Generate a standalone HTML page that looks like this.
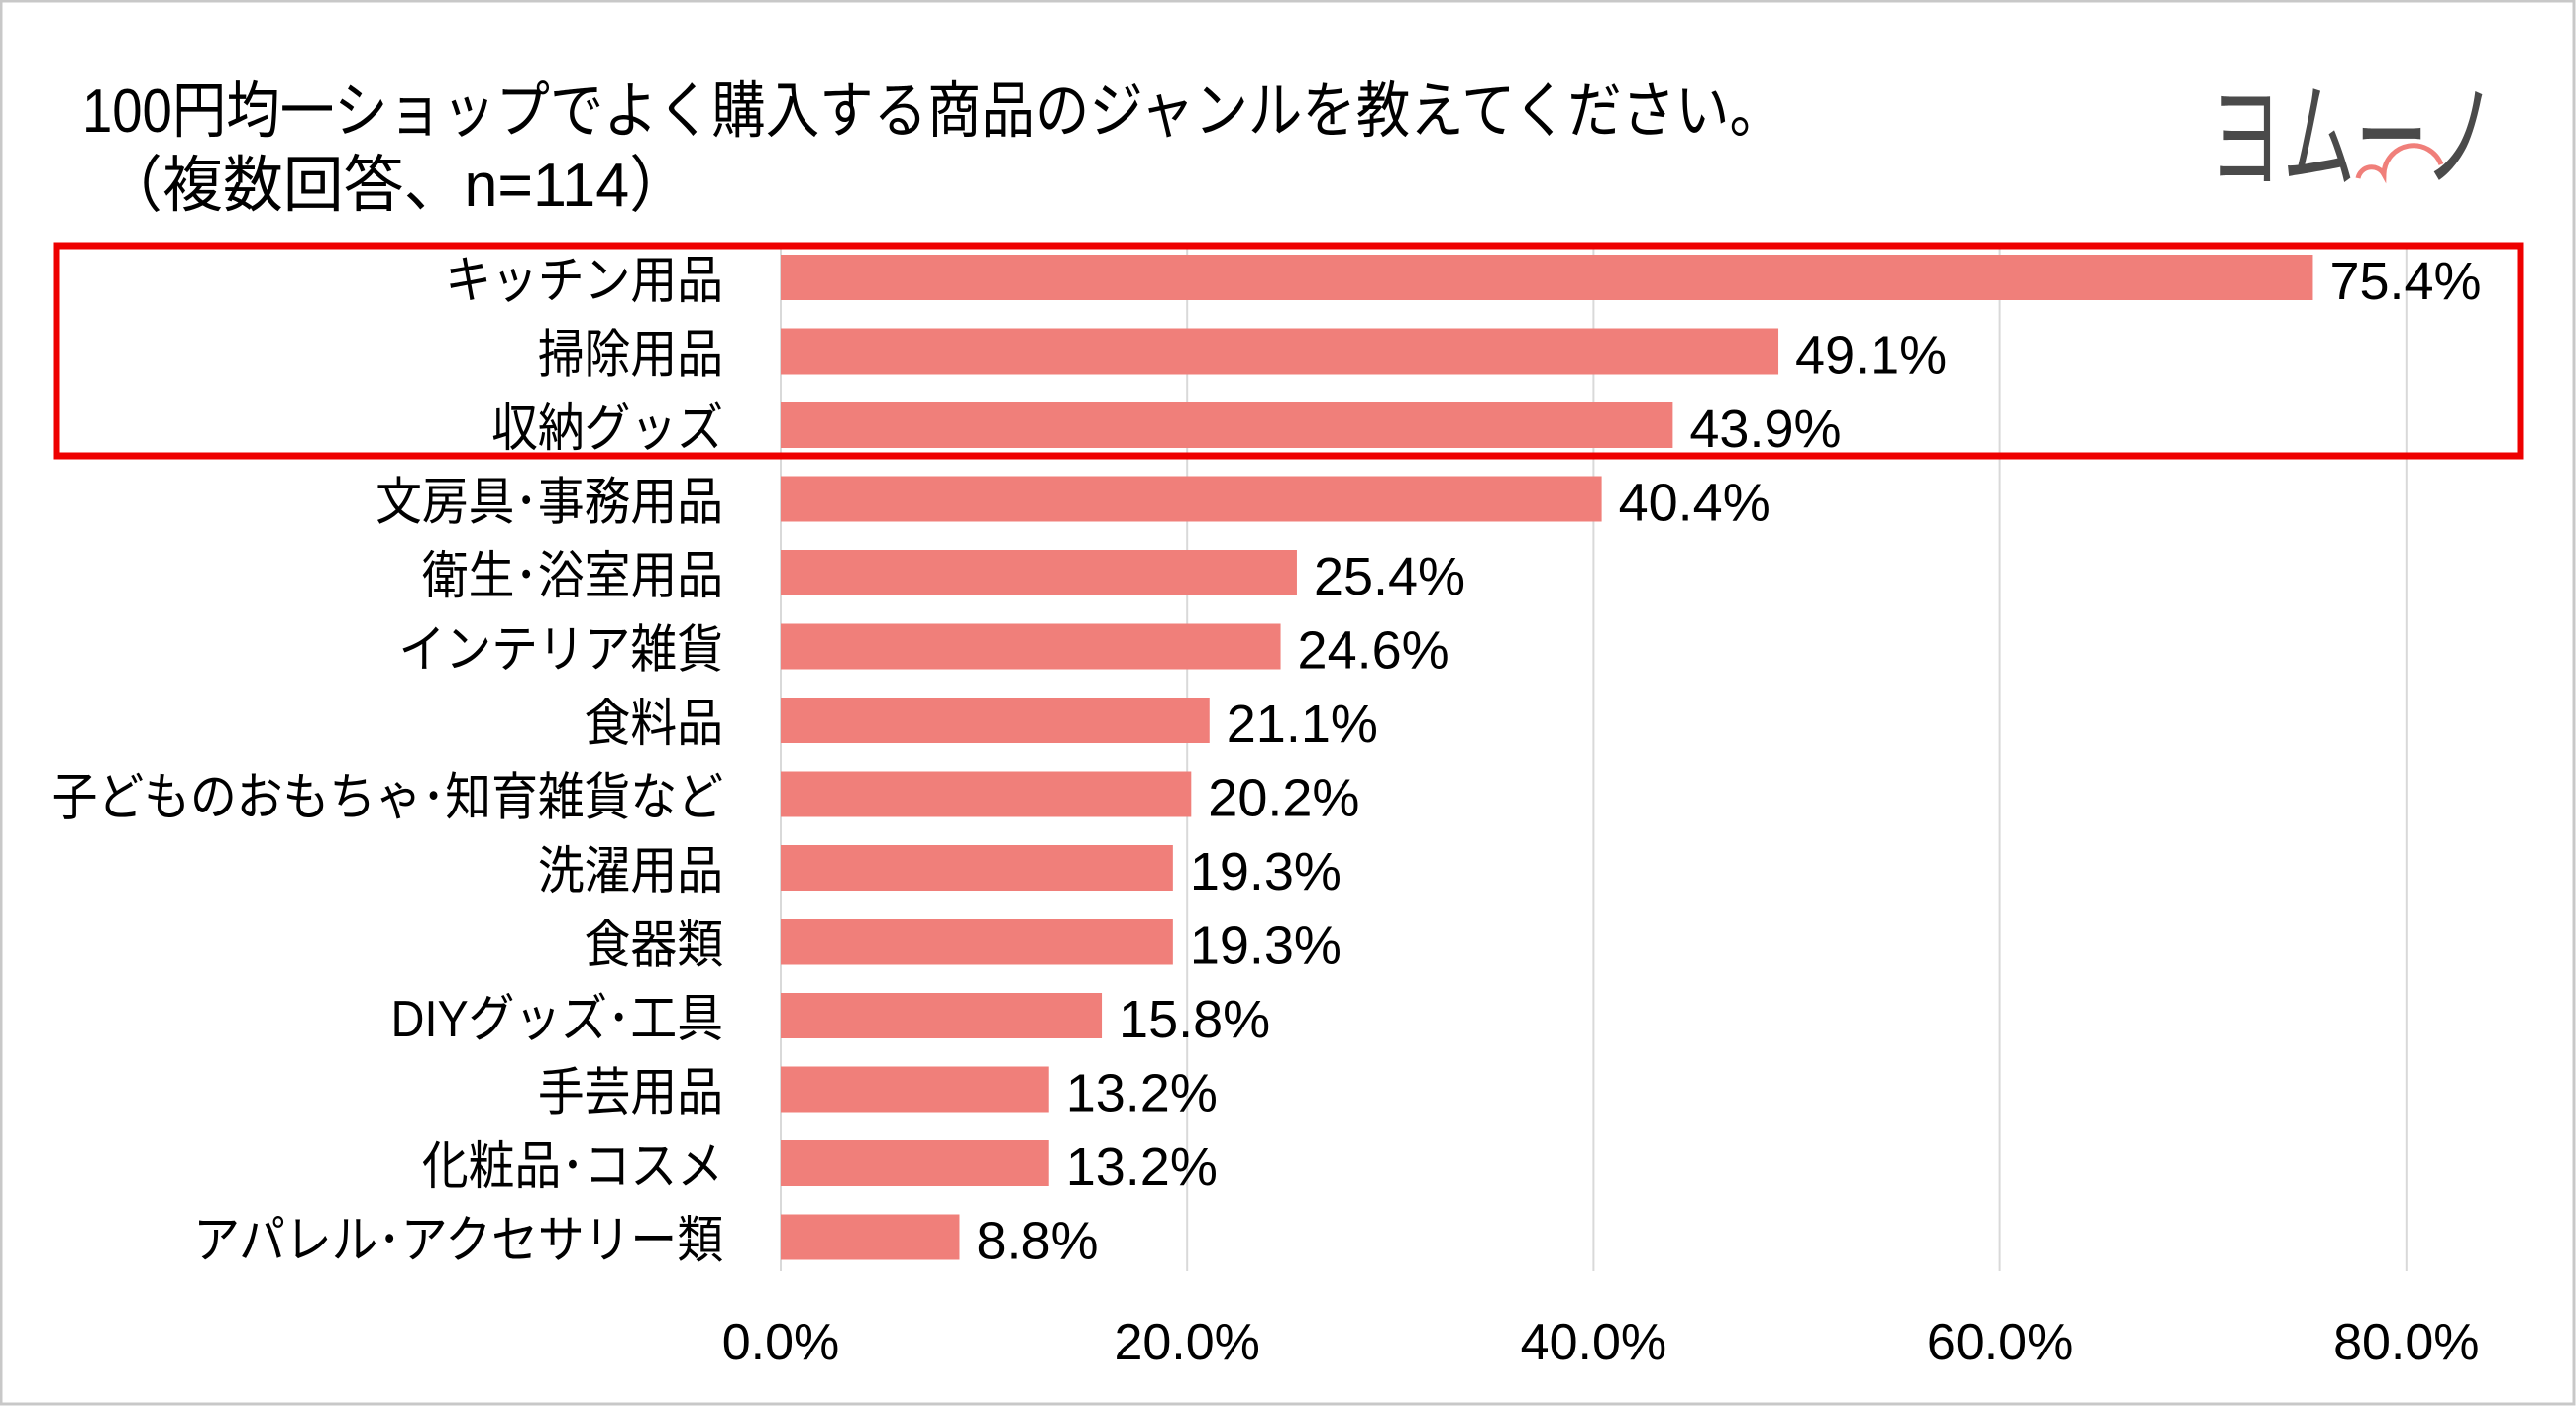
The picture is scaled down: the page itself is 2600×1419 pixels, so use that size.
<!DOCTYPE html>
<html><head><meta charset="utf-8"><style>
html,body{margin:0;padding:0;background:#fff}
svg{display:block}
</style></head><body>
<svg width="2600" height="1419" viewBox="0 0 2600 1419" xmlns="http://www.w3.org/2000/svg">
<rect x="1" y="1" width="2597" height="1416" fill="#fff" stroke="#c8c8c8" stroke-width="3"/>
<g font-family="'Liberation Sans','Noto Sans CJK JP',sans-serif" fill="#000">
<text x="83" y="133" font-size="62" textLength="1717" lengthAdjust="spacingAndGlyphs">100円均一ショップでよく購入する商品のジャンルを教えてください。</text>
<text x="103" y="208" font-size="62" textLength="593" lengthAdjust="spacingAndGlyphs">（複数回答、n=114）</text>
</g>
<g>
<text x="2230" y="180" font-family="'Noto Sans CJK JP',sans-serif" font-size="118" fill="#4a4a4a" textLength="290" lengthAdjust="spacingAndGlyphs">ヨムーノ</text>
<path d="M2380 180 A14 14 0 0 1 2406 176 A30 30 0 0 1 2464 166" fill="none" stroke="#f07f7a" stroke-width="5"/>
</g>
<g id="grid"></g>
<g id="bars"></g>
<g id="labels"></g>
<rect x="57" y="248" width="2487" height="212" fill="none" stroke="#ee0000" stroke-width="7"/>
</svg>
<script>
const categories=["キッチン用品","掃除用品","収納グッズ","文房具･事務用品","衛生･浴室用品","インテリア雑貨","食料品","子どものおもちゃ･知育雑貨など","洗濯用品","食器類","DIYグッズ･工具","手芸用品","化粧品･コスメ","アパレル･アクセサリー類"];
const values=[75.4,49.1,43.9,40.4,25.4,24.6,21.1,20.2,19.3,19.3,15.8,13.2,13.2,8.8];
const ticks=[0,20,40,60,80];
const NS="http://www.w3.org/2000/svg";
const x0=788,pxPer=20.51,y0=280,step=74.5,bh=46;
const xs=v=>x0+v*pxPer;
const ys=i=>y0+i*step;
const font="'Liberation Sans','Noto Sans CJK JP',sans-serif";
const grid=document.getElementById('grid'),bars=document.getElementById('bars'),labels=document.getElementById('labels');
function mk(t,a){const e=document.createElementNS(NS,t);for(const k in a)e.setAttribute(k,a[k]);return e;}
ticks.forEach(t=>{
  const l=mk('line',{x1:xs(t),x2:xs(t),y1:248,y2:1283,stroke:'#d9d9d9','stroke-width':2});
  
  
  grid.appendChild(l);
  const tx=mk('text',{x:xs(t),y:1372,'font-size':52,'text-anchor':'middle','font-family':font});
  
  
  tx.textContent=t.toFixed(1)+'%';
  labels.appendChild(tx);
});
categories.forEach((c,i)=>{
  const r=mk('rect',{x:x0,y:ys(i)-bh/2,width:xs(values[i])-x0,height:bh,fill:'#f07f7a'});
  
  
  bars.appendChild(r);
  const lb=mk('text',{x:0,y:0,'font-size':52,'text-anchor':'end','font-family':font,transform:'translate(730,'+(ys(i)+21)+') scale(0.9,1)'});
  
  
  lb.textContent=c;
  labels.appendChild(lb);
  const vl=mk('text',{x:xs(values[i])+17,y:ys(i)+22,'font-size':54,'font-family':font});
  
  
  vl.textContent=values[i].toFixed(1)+'%';
  labels.appendChild(vl);
});
</script>
</body></html>
